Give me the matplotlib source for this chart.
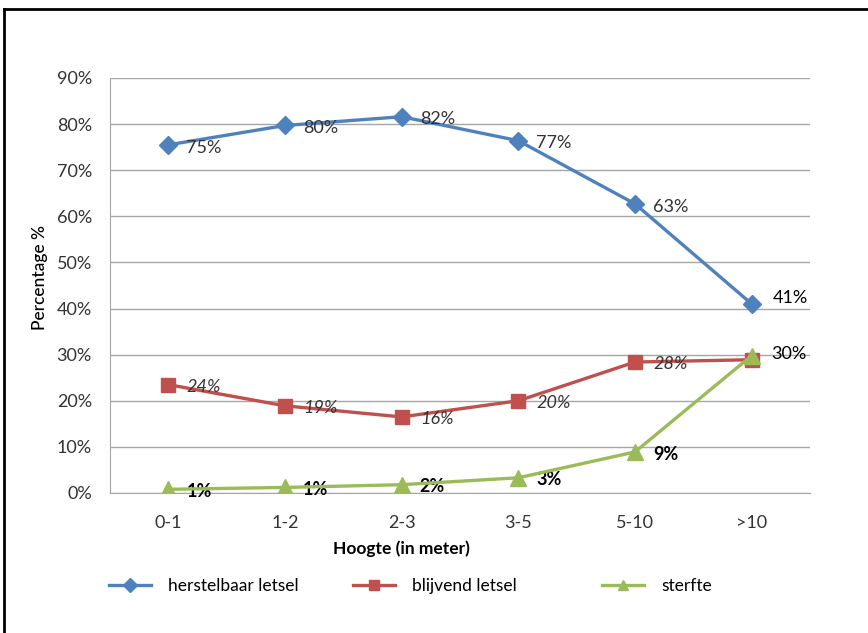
import matplotlib
matplotlib.use('Agg')
import matplotlib.pyplot as plt
from matplotlib.lines import Line2D
from matplotlib.ticker import PercentFormatter

plt.rcParams['font.family'] = ['Lato', 'DejaVu Sans']

# Data
hoogte = ['0-1', '1-2', '2-3', '3-5', '5-10', '>10']
herstelbaar = [75.5, 79.7, 81.6, 76.4, 62.7, 41.0]
blijvend = [23.5, 18.9, 16.5, 20.0, 28.4, 28.9]
sterfte = [0.8, 1.2, 1.8, 3.3, 8.9, 29.8]
lab_herstelbaar = ['75%', '80%', '82%', '77%', '63%', '41%']
lab_blijvend = ['24%', '19%', '16%', '20%', '28%', '']
lab_sterfte = ['1%', '1%', '2%', '3%', '9%', '30%']

blauw = '#4F81BD'
rood = '#C0504D'
groen = '#9BBB59'

fig = plt.figure(figsize=(8.68, 6.33), dpi=100)
ax = fig.add_axes([0.1267, 0.2212, 0.8065, 0.6556])

x = list(range(len(hoogte)))
l1, = ax.plot(x, herstelbaar, color=blauw, lw=2.4, marker='D', ms=9.5, zorder=3)
l2, = ax.plot(x, blijvend, color=rood, lw=2.4, marker='s', ms=10.5, zorder=3)
l3, = ax.plot(x, sterfte, color=groen, lw=2.4, marker='^', ms=11, zorder=4)

# datalabels
fs = 13
for i in range(len(hoogte)):
    if i == len(hoogte) - 1:
        ax.annotate(lab_herstelbaar[i], (x[i], herstelbaar[i]), xytext=(15, 4),
                    textcoords='offset points', va='center', fontsize=fs, color='black')
        ax.annotate(lab_sterfte[i], (x[i], sterfte[i]), xytext=(14, 1),
                    textcoords='offset points', va='center', fontsize=fs, color='black')
        continue
    ax.annotate(lab_herstelbaar[i], (x[i], herstelbaar[i]), xytext=(13, -2),
                textcoords='offset points', va='center', fontsize=fs, color='#333333')
    ax.annotate(lab_blijvend[i], (x[i], blijvend[i]), xytext=(13, -1.5),
                textcoords='offset points', va='center', fontsize=fs,
                style='italic', color='#333333')
    ax.annotate(lab_sterfte[i], (x[i], sterfte[i]), xytext=(13, -1.5),
                textcoords='offset points', va='center', fontsize=fs,
                fontweight='bold', color='black')

ax.set_xlim(-0.5, len(hoogte) - 0.5)
ax.set_ylim(0, 90)
ax.set_yticks(range(0, 91, 10))
ax.yaxis.set_major_formatter(PercentFormatter(decimals=0))
ax.set_xticks(x)
ax.set_xticklabels(hoogte)
ax.tick_params(axis='both', length=0, labelsize=13, colors='#333333')
ax.tick_params(axis='y', pad=13)
ax.tick_params(axis='x', pad=16)
ax.grid(axis='y', color='#A6A6A6', lw=1)
ax.set_axisbelow(True)
for s in ['top', 'right']:
    ax.spines[s].set_visible(False)
for s in ['left', 'bottom']:
    ax.spines[s].set_color('#A6A6A6')

ax.set_xlabel('Hoogte (in meter)', fontsize=12.5, fontweight='bold')
ax.xaxis.set_label_coords(0.417, -0.115)
ax.set_ylabel('Percentage %', fontsize=12.5, fontweight='medium')
ax.yaxis.set_label_coords(-0.088, 0.52)

# legenda
for h, naam, xp in [(l1, 'herstelbaar letsel', 0.1256), (l2, 'blijvend letsel', 0.4067),
                    (l3, 'sterfte', 0.6935)]:
    fig.legend([h], [naam], loc='center left', bbox_to_anchor=(xp, 0.0743),
               frameon=False, fontsize=12.5, handlelength=2.4, handletextpad=1.0,
               borderaxespad=0, borderpad=0, markerscale=0.7)

# rand
fig.add_artist(Line2D([0.005, 1.0], [0.985, 0.985], color='black', lw=2))
fig.add_artist(Line2D([0.005, 0.005], [0.0, 0.985], color='black', lw=2))

fig.savefig('out.png', dpi=100)
